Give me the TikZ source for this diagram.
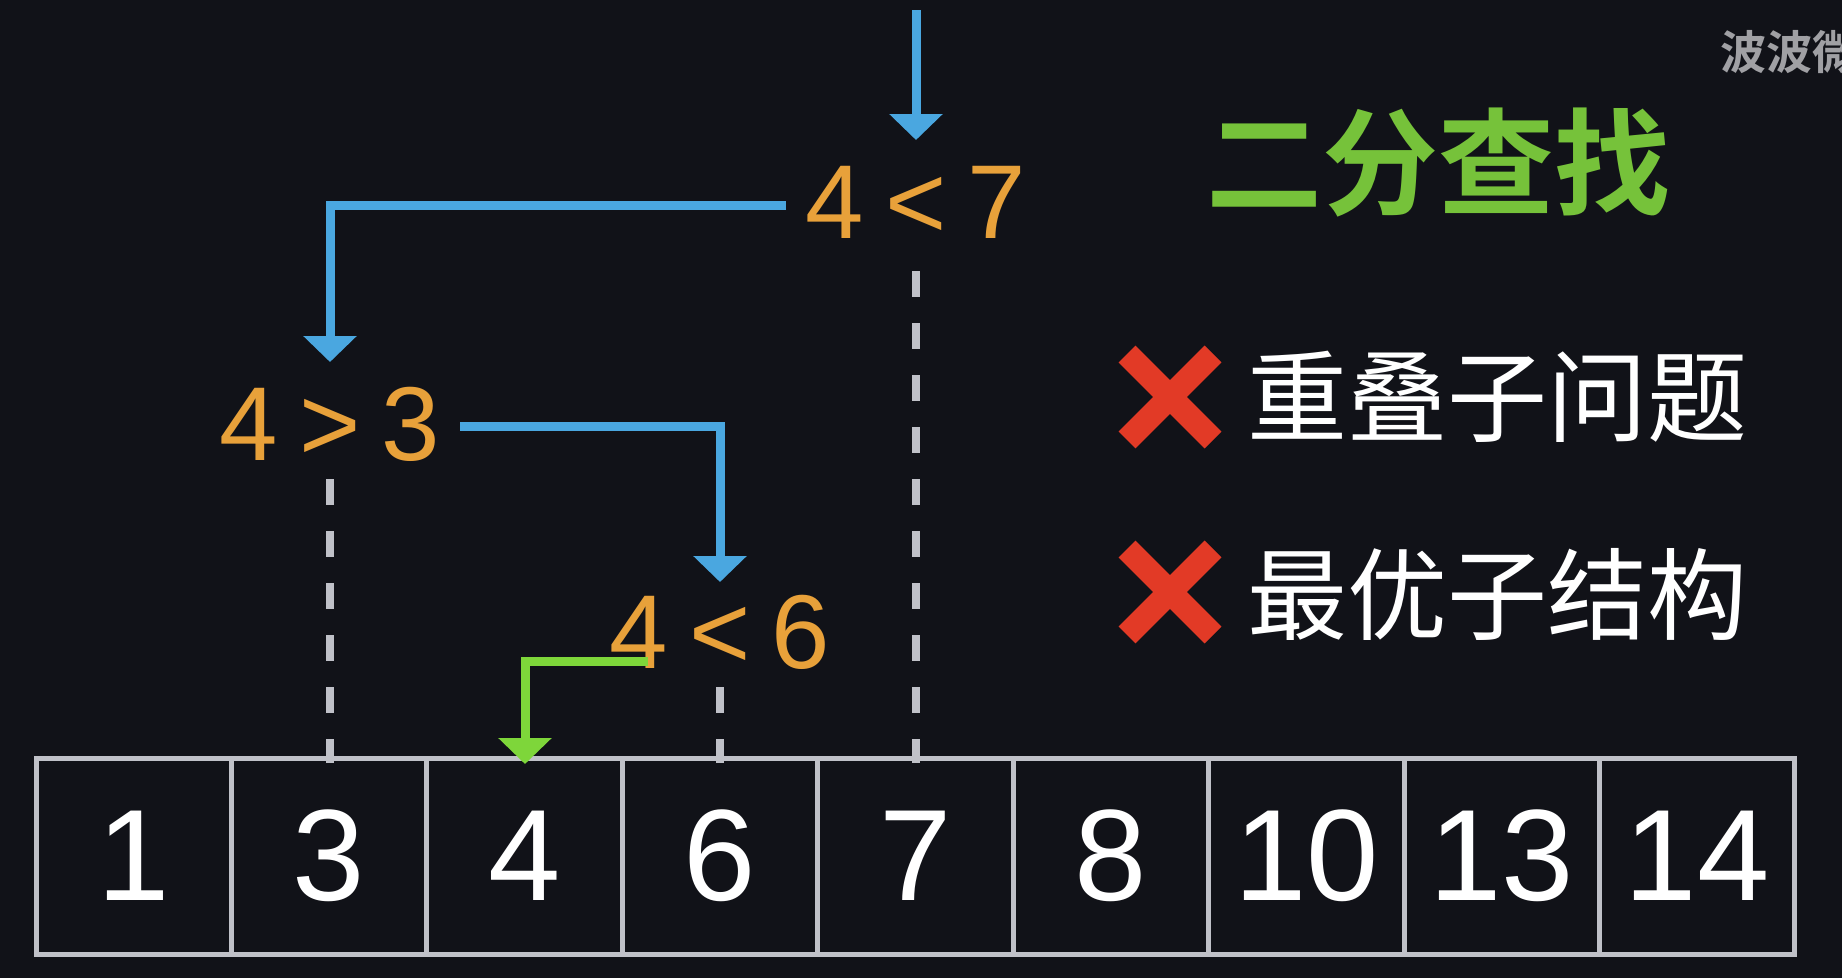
\documentclass[tikz,border=0pt]{standalone}
\usepackage{fontspec}
\setmainfont{Liberation Sans}
\newfontfamily\cjk{Noto Sans CJK SC}
\newfontfamily\cjkbold{Noto Sans CJK SC Bold}
\usetikzlibrary{arrows.meta}
\definecolor{bg}{RGB}{17,18,24}
\definecolor{gridc}{RGB}{192,193,200}
\definecolor{arrblue}{RGB}{74,167,224}
\definecolor{arrgreen}{RGB}{126,214,58}
\definecolor{titlegreen}{RGB}{118,194,58}
\definecolor{orng}{RGB}{232,161,58}
\definecolor{xred}{RGB}{226,58,38}
\definecolor{wmgray}{RGB}{160,160,164}
\begin{document}
\begin{tikzpicture}[x=1pt,y=-1pt,
  cell/.style={draw=gridc, line width=5pt, minimum width=195.4pt, minimum height=196pt,
    inner sep=0pt, text=white, font=\fontsize{130pt}{130pt}\selectfont},
  cmp/.style={text=orng, anchor=base, inner sep=0pt, font=\fontsize{105pt}{105pt}\selectfont},
  dashline/.style={draw=gridc, line width=8pt, dash pattern=on 26pt off 26pt},
  barrow/.style={draw=arrblue, line width=9pt, line join=miter,
    -{Triangle[width=52pt,length=26pt]}},
  garrow/.style={draw=arrgreen, line width=9pt, line join=miter,
    -{Triangle[width=52pt,length=26pt]}},
  xmark/.style={draw=xred, line width=24pt, line cap=butt},
  item/.style={text=white, anchor=west, inner sep=0pt, font=\cjk\fontsize{100pt}{100pt}\selectfont},
]
\useasboundingbox (0,0) rectangle (1842,978);
\fill[bg] (0,0) rectangle (1842,978);

% dashed guide lines
\coordinate (d7) at (916,271);
\coordinate (d3) at (330,479);
\coordinate (d6) at (720,687);
\coordinate (e7) at (916,763);
\coordinate (e3) at (330,763);
\coordinate (e6) at (720,763);
\draw[dashline] (d7) -- (e7);
\draw[dashline] (d3) -- (e3);
\draw[dashline] (d6) -- (e6);

% array cells
\foreach \v [count=\i] in {1,3,4,6,7,8,10,13,14}
  \node[cell] (c\i) at ({36+195.43*(\i-0.5)},856) {\v};

% comparisons
\node[cmp] (t7) at (916,238) {4\hspace{.2em}<\hspace{.2em}7};
\node[cmp] (t3) at (330,460) {4\hspace{.2em}>\hspace{.2em}3};
\node[cmp] (t6) at (720,668) {4\hspace{.2em}<\hspace{.2em}6};

% arrows
\coordinate (s0) at (916,10);
\coordinate (a7) at (916,140);
\coordinate (s1) at (786,205);
\coordinate (a3) at (330,362);
\coordinate (s2) at (460,426);
\coordinate (a6) at (720,582);
\coordinate (s3) at (648,661);
\coordinate (a4) at (525,764);
\draw[barrow] (s0) -- (a7);
\draw[barrow] (s1) -| (a3);
\draw[barrow] (s2) -| (a6);
\draw[garrow] (s3) -| (a4);

% title and watermark
\node[text=titlegreen, inner sep=0pt, font=\cjkbold\fontsize{116pt}{116pt}\selectfont]
  (title) at (1438,163) {二分查找};
\node[text=wmgray, anchor=west, inner sep=0pt, font=\cjkbold\fontsize{46pt}{46pt}\selectfont]
  (wm) at (1720,52) {波波微课};

% cross items
\draw[xmark] (1127,354) -- (1213,440) (1213,354) -- (1127,440);
\node[item] (p1) at (1247,397) {重叠子问题};
\draw[xmark] (1127,549) -- (1213,635) (1213,549) -- (1127,635);
\node[item] (p2) at (1247,594) {最优子结构};
\end{tikzpicture}
\end{document}
